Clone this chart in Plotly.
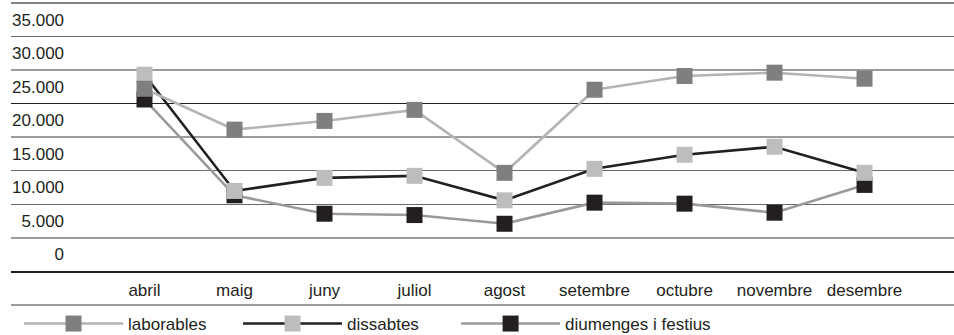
import plotly.graph_objects as go

months = ["abril", "maig", "juny", "juliol", "agost", "setembre", "octubre", "novembre", "desembre"]
laborables = [24700, 18600, 19900, 21550, 12150, 24550, 26600, 27100, 26200]
dissabtes = [26800, 9450, 11400, 11700, 8050, 12750, 14850, 16050, 12150]
diumenges = [23100, 8800, 6050, 5850, 4550, 7700, 7550, 6200, 10350]

label_vals = [0, 5000, 10000, 15000, 20000, 25000, 30000, 35000]
label_text = ["0", "5.000", "10.000", "15.000", "20.000", "25.000", "30.000", "35.000"]
grid_light = [2500, 17500, 27500]
grid_mid = [7500, 12500, 32500]
grid_black = [22500]

FONT = "Liberation Sans, Arial, sans-serif"
YRANGE = [-2500, 37500]
XRANGE = [-1.483, 8.994]

fig = go.Figure()
# drawn order: diumenges at bottom, laborables on top
fig.add_trace(go.Scatter(
    x=months, y=diumenges, name="diumenges i festius", mode="lines+markers",
    line=dict(color="#9a9a9a", width=2.6),
    marker=dict(symbol="square", size=16, color="#231f20", line=dict(width=0)),
    legend="legend2", hoverinfo="skip", yaxis="y"))
fig.add_trace(go.Scatter(
    x=months, y=dissabtes, name="dissabtes", mode="lines+markers",
    line=dict(color="#231f20", width=2.6),
    marker=dict(symbol="square", size=16, color="#bdbdbd", line=dict(width=0)),
    legendrank=2, hoverinfo="skip", yaxis="y2"))
fig.add_trace(go.Scatter(
    x=months, y=laborables, name="laborables", mode="lines+markers",
    line=dict(color="#b4b4b4", width=2.6),
    marker=dict(symbol="square", size=16, color="#7f7f7f", line=dict(width=0)),
    legendrank=1, hoverinfo="skip", yaxis="y3"))
# carrier for the black gridline axis (draws nothing)
fig.add_trace(go.Scatter(
    x=months, y=[None] * len(months), mode="lines", showlegend=False,
    hoverinfo="skip", yaxis="y4"))

common = dict(range=YRANGE, zeroline=False, showline=False, ticks="")
legend_common = dict(orientation="h", xanchor="left", y=-0.1978, yanchor="middle",
                     itemwidth=99, font=dict(size=17), bgcolor="rgba(0,0,0,0)")
fig.update_layout(
    width=954, height=335,
    margin=dict(l=11, r=0, t=3, b=64, autoexpand=False),
    paper_bgcolor="white", plot_bgcolor="white",
    font=dict(family=FONT, size=17, color="#231f20"),
    xaxis=dict(type="category", range=XRANGE, showgrid=False,
               showline=True, linecolor="#231f20", linewidth=1.5,
               ticks="", zeroline=False, tickfont=dict(size=17),
               ticklabelstandoff=3),
    yaxis=dict(anchor="free", position=0.0563, tickvals=label_vals,
               ticktext=label_text, showgrid=False, **common),
    yaxis2=dict(overlaying="y", tickvals=grid_light, showticklabels=False,
                showgrid=True, gridcolor="#9c9c9c", gridwidth=2, **common),
    yaxis3=dict(overlaying="y", tickvals=grid_mid, showticklabels=False,
                showgrid=True, gridcolor="#6a6a6a", gridwidth=1.4, **common),
    yaxis4=dict(overlaying="y", tickvals=grid_black, showticklabels=False,
                showgrid=True, gridcolor="#231f20", gridwidth=1.4, **common),
    legend=dict(x=0.0085, entrywidth=105, traceorder="normal", **legend_common),
    legend2=dict(x=0.472, **legend_common),
    shapes=[
        # top frame rule of the table
        dict(type="line", xref="paper", yref="paper", x0=0, x1=1, y0=1, y1=1,
             line=dict(color="#5a5a5a", width=1.6)),
        # rule under the month labels
        dict(type="line", xref="paper", yref="paper", x0=0, x1=1,
             y0=-0.1269, y1=-0.1269, line=dict(color="#9c9c9c", width=2)),
    ],
    showlegend=True,
)

fig.write_html("out.html", config={"displayModeBar": False},
               post_script="document.body.style.margin='0px';")
